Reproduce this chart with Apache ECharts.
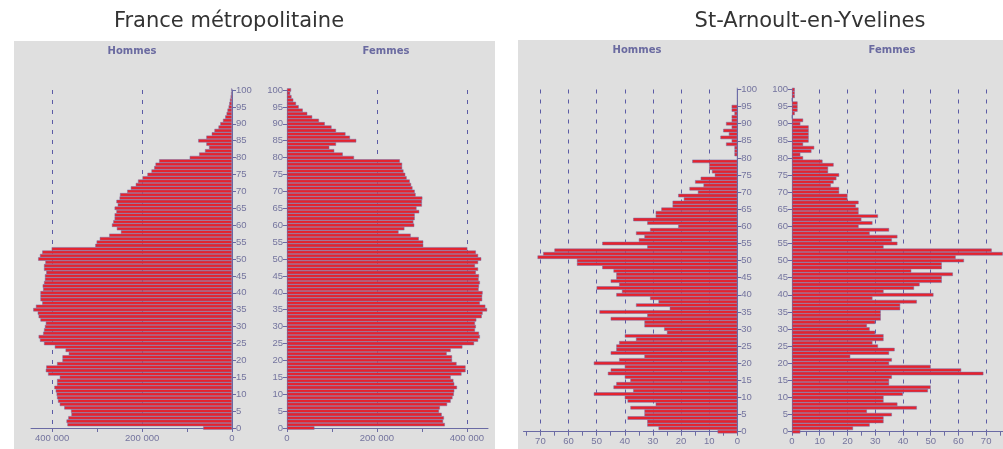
<!DOCTYPE html>
<html>
<head>
<meta charset="utf-8">
<title>Pyramides des âges</title>
<script src="https://cdn.jsdelivr.net/npm/echarts@6/dist/echarts.min.js"></script>
<style>
    html, body { margin: 0; padding: 0; background: #ffffff; }
    #chart { width: 1003px; height: 449px; }
</style>
</head>
<body>
<div id="chart"></div>
<script>
// ages 0 .. 100
const ages = Array.from({ length: 101 }, (_, i) => String(i));

// France métropolitaine, in thousands, age 0 -> 100
const franceHommes = [
    64, 366, 368, 364, 357, 358, 373, 383, 387, 389,
    390, 392, 395, 389, 389, 383, 409, 414, 413, 389,
    377, 377, 363, 370, 394, 418, 427, 430, 420, 418,
    416, 414, 426, 430, 432, 442, 436, 422, 426, 426,
    426, 420, 421, 418, 416, 416, 413, 418, 418, 415,
    431, 427, 422, 401, 304, 301, 294, 273, 247, 256,
    267, 264, 261, 261, 257, 261, 254, 257, 250, 249,
    233, 225, 214, 209, 199, 188, 179, 173, 170, 162,
    94, 73, 60, 51, 57, 75, 57, 45, 39, 30,
    26, 20, 15, 12, 10, 7.5, 6, 4.5, 3, 2,
    1.5
];
const franceFemmes = [
    61, 351, 347, 349, 344, 338, 340, 356, 364, 368,
    371, 372, 378, 372, 370, 364, 388, 397, 397, 377,
    367, 367, 355, 364, 390, 416, 425, 429, 427, 418,
    420, 418, 421, 433, 435, 445, 441, 429, 434, 434,
    435, 426, 427, 429, 426, 427, 420, 425, 418, 425,
    432, 425, 420, 401, 303, 303, 293, 275, 248, 261,
    283, 281, 284, 284, 294, 288, 300, 300, 301, 286,
    284, 279, 276, 273, 266, 263, 259, 256, 256, 251,
    149, 124, 105, 94, 109, 154, 140, 130, 109, 99,
    84, 71, 56, 45, 35, 26, 20, 14, 10, 7,
    9
];

// St-Arnoult-en-Yvelines, persons, age 0 -> 100
const stArnoultHommes = [
    7, 28, 32, 32, 39, 33, 33, 38, 29, 39,
    40, 51, 37, 44, 43, 38, 40, 46, 45, 40,
    51, 42, 33, 45, 43, 43, 42, 36, 40, 25,
    26, 33, 33, 45, 32, 49, 24, 36, 28, 31,
    43, 41, 50, 42, 45, 43, 43, 44, 48, 57,
    57, 71, 69, 65, 32, 48, 35, 33, 36, 31,
    21, 32, 37, 29, 29, 27, 23, 23, 19, 21,
    14, 17, 12, 15, 13, 8, 9, 10, 10, 16,
    0, 1, 1, 1, 4, 2, 6, 3, 5, 2,
    4, 2, 2, 1, 2, 2, 0, 0, 0, 0,
    0
];
const stArnoultFemmes = [
    3, 22, 28, 33, 33, 36, 27, 45, 38, 33,
    33, 40, 49, 50, 35, 35, 36, 69, 61, 50,
    35, 36, 21, 35, 37, 31, 29, 33, 33, 30,
    28, 27, 30, 32, 32, 32, 39, 39, 45, 29,
    51, 33, 44, 46, 54, 54, 58, 43, 54, 54,
    62, 59, 76, 72, 33, 38, 36, 38, 28, 35,
    24, 29, 25, 31, 24, 24, 23, 24, 20, 20,
    17, 17, 14, 15, 16, 17, 13, 13, 15, 11,
    4, 3, 7, 8, 4, 6, 6, 6, 6, 6,
    3, 4, 0, 1, 2, 2, 2, 0, 1, 1,
    1
];

const axisColor = '#6a6aa4';
const labelColor = '#74749e';
const smallFont = 'Liberation Sans, Arial, sans-serif';

var chart = echarts.init(document.getElementById('chart'));

function grid(left, width, top, height) {
    return { left: left, width: width, top: top, height: height, containLabel: false };
}

function ageAxis(gridIndex, position) {
    return {
        type: 'category',
        gridIndex: gridIndex,
        position: position,
        data: ages,
        boundaryGap: false,
        axisLine: { show: true, lineStyle: { color: axisColor, width: 1 } },
        axisTick: { show: true, interval: 4, length: 4, lineStyle: { color: axisColor } },
        axisLabel: { interval: 4, margin: 4, color: labelColor, fontSize: 9.5, fontFamily: smallFont },
        splitLine: { show: false }
    };
}

// axis with ticks and labels
function valueAxis(gridIndex, inverse, max, interval, labelStep, fmt) {
    return {
        type: 'value',
        gridIndex: gridIndex,
        inverse: inverse,
        min: 0,
        max: max,
        interval: interval,
        axisLine: { show: true, onZero: false, lineStyle: { color: axisColor, width: 1 } },
        axisTick: { show: true, length: 4, lineStyle: { color: axisColor } },
        axisLabel: {
            margin: 5, color: labelColor, fontSize: 9.5, fontFamily: smallFont,
            showMaxLabel: false,
            formatter: function (v) { return v % labelStep === 0 ? fmt(v) : ''; }
        },
        splitLine: { show: false }
    };
}

// extra axis only used for the dashed vertical lines
function gridLineAxis(gridIndex, inverse, max, interval) {
    return {
        type: 'value',
        gridIndex: gridIndex,
        inverse: inverse,
        position: 'top',
        min: 0,
        max: max,
        interval: interval,
        axisLine: { show: false },
        axisTick: { show: false },
        axisLabel: { show: false },
        splitLine: {
            show: true, showMinLine: false, showMaxLine: false,
            lineStyle: { color: '#5c5ca6', width: 1, type: [4, 6] }
        }
    };
}

function thousands(v) {
    if (v === 0) return '0';
    var s = String(v);
    return s.slice(0, s.length - 3) + ' ' + s.slice(s.length - 3);
}

function barSeries(xi, data) {
    return {
        type: 'bar',
        xAxisIndex: xi,
        yAxisIndex: xi / 2,
        data: data,
        barCategoryGap: '0%',
        clip: false,
        silent: true,
        itemStyle: { color: '#e8222c', borderColor: '#7070aa', borderWidth: 0.5 }
    };
}

const franceMax = 447000;
const stMax = 76;

var titleFont = 'DejaVu Sans, sans-serif';
function headTitle(text, x) {
    return {
        text: text, left: x, top: 11, textAlign: 'center', padding: 0,
        textStyle: { fontFamily: titleFont, fontSize: 21, fontWeight: 'normal', color: '#333333' }
    };
}
function sexTitle(text, x, y) {
    return {
        text: text, left: x, top: y, textAlign: 'center', padding: 0,
        textStyle: { fontFamily: titleFont, fontSize: 10, fontWeight: 'bold', color: '#6a6aa0' }
    };
}

var option = {
    animation: false,
    title: [
        headTitle('France métropolitaine', 229),
        headTitle('St-Arnoult-en-Yvelines', 810),
        sexTitle('Hommes', 132, 46),
        sexTitle('Femmes', 386, 46),
        sexTitle('Hommes', 637, 45),
        sexTitle('Femmes', 892, 45)
    ],
    graphic: [
        { type: 'rect', z: -10, shape: { x: 14, y: 41, width: 481, height: 410 }, style: { fill: '#dfdfdf' } },
        { type: 'rect', z: -10, shape: { x: 518, y: 40, width: 490, height: 410 }, style: { fill: '#dfdfdf' } }
    ],
    grid: [
        grid(31, 201, 90, 338),
        grid(287, 201, 90, 338),
        grid(523.5, 213.8, 89.5, 342.2),
        grid(792, 213.8, 89.5, 342.2)
    ],
    xAxis: [
        valueAxis(0, true, franceMax, 100000, 200000, thousands),
        gridLineAxis(0, true, franceMax, 200000),
        valueAxis(1, false, franceMax, 100000, 200000, thousands),
        gridLineAxis(1, false, franceMax, 200000),
        valueAxis(2, true, stMax, 5, 10, String),
        gridLineAxis(2, true, stMax, 10),
        valueAxis(3, false, stMax, 5, 10, String),
        gridLineAxis(3, false, stMax, 10)
    ],
    yAxis: [
        ageAxis(0, 'right'),
        ageAxis(1, 'left'),
        ageAxis(2, 'right'),
        ageAxis(3, 'left')
    ],
    series: [
        barSeries(0, franceHommes.map(v => v * 1000)),
        barSeries(2, franceFemmes.map(v => v * 1000)),
        barSeries(4, stArnoultHommes),
        barSeries(6, stArnoultFemmes)
    ]
};

chart.setOption(option);
</script>
</body>
</html>
